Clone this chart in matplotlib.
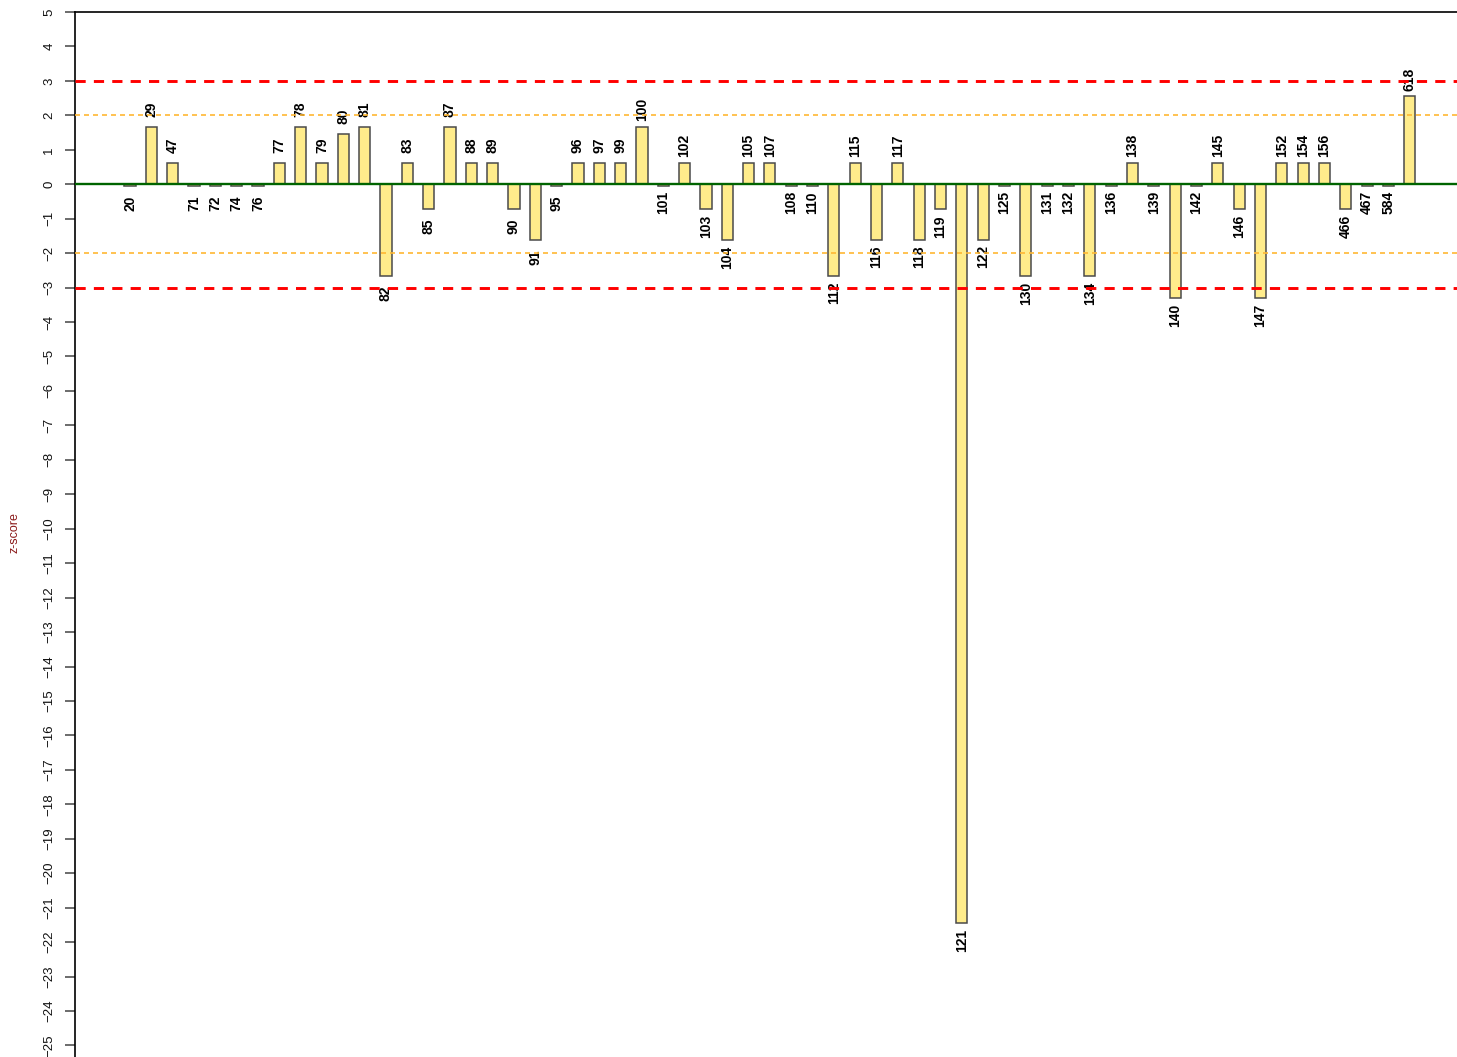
import matplotlib
matplotlib.use("Agg")
import matplotlib.pyplot as plt
import numpy as np

plt.rcParams['font.family'] = ['Liberation Sans', 'DejaVu Sans']

labels = ["20", "29", "47", "71", "72", "74", "76", "77", "78", "79", "80", "81", "82", "83",
          "85", "87", "88", "89", "90", "91", "95", "96", "97", "99", "100", "101", "102",
          "103", "104", "105", "107", "108", "110", "112", "115", "116", "117", "118", "119",
          "121", "122", "125", "130", "131", "132", "134", "136", "138", "139", "140", "142",
          "145", "146", "147", "152", "154", "156", "466", "467", "584", "618"]
zscores = [-0.04, 1.67, 0.62, -0.04, -0.04, -0.04, -0.04, 0.62, 1.67, 0.62, 1.46, 1.67, -2.66, 0.62,
           -0.72, 1.67, 0.62, 0.62, -0.72, -1.61, -0.04, 0.62, 0.62, 0.62, 1.67, -0.04, 0.62,
           -0.72, -1.61, 0.62, 0.62, -0.04, -0.04, -2.66, 0.62, -1.61, 0.62, -1.61, -0.72,
           -21.45, -1.61, -0.04, -2.66, -0.04, -0.04, -2.66, -0.04, 0.62, -0.04, -3.31, -0.04,
           0.62, -0.72, -3.31, 0.62, 0.62, 0.62, -0.72, -0.04, -0.04, 2.55]
yticks = list(range(-25, 6))
red_levels = [3, -3]
orange_levels = [2, -2]

W, H = 1457, 1057
fig = plt.figure(figsize=(W / 100, H / 100), dpi=100)
ax_left = 75 / W
ax_top_px = 12.0
ax = fig.add_axes([ax_left, 0.0, 1.0 - ax_left, 1.0 - ax_top_px / H])

x = np.arange(len(labels))
ax.bar(x, zscores, width=0.52, color='#FFEC8B', edgecolor='#4a4a4a', linewidth=1.1, zorder=2)

for xi, v, lab in zip(x, zscores, labels):
    yy = v + 0.5 if v > 0 else v - 0.5
    ax.text(xi, yy, lab, rotation=90, ha='center', va='center', fontsize=10,
            fontweight='bold', color='black', zorder=3)

for lv in orange_levels:
    l = ax.axhline(lv, color='#FFB833', linewidth=1.2, zorder=4)
    l.set_dashes((3.0, 2.4))
for lv in red_levels:
    l = ax.axhline(lv, color='#FF0000', linewidth=2.1, zorder=4)
    l.set_dashes((3.5, 2.8))
ax.axhline(0, color='#006400', linewidth=1.7, zorder=5)

ax.set_xlim(-2.58, 62.21)
ax.set_ylim(-(H - 184.2) / 34.45, 5)
ax.set_yticks(yticks)
ax.set_yticklabels([str(t).replace('-', '\u2212') for t in yticks])
ax.tick_params(axis='y', length=7.2, width=1.1, color='#444444', pad=7, labelsize=9.5,
               labelrotation=90, labelcolor='#111111')
for lab in ax.get_yticklabels():
    lab.set_va('center')
ax.set_xticks([])
ax.spines['right'].set_visible(False)
ax.spines['bottom'].set_visible(False)
ax.spines['left'].set_linewidth(1.2)
ax.spines['top'].set_linewidth(1.2)

fig.text(15 / W, 1 - 533 / H, 'z-score', rotation=90, ha='center', va='center',
         fontsize=9, color='#8B1A1A')

fig.savefig('out.png', dpi=100)
